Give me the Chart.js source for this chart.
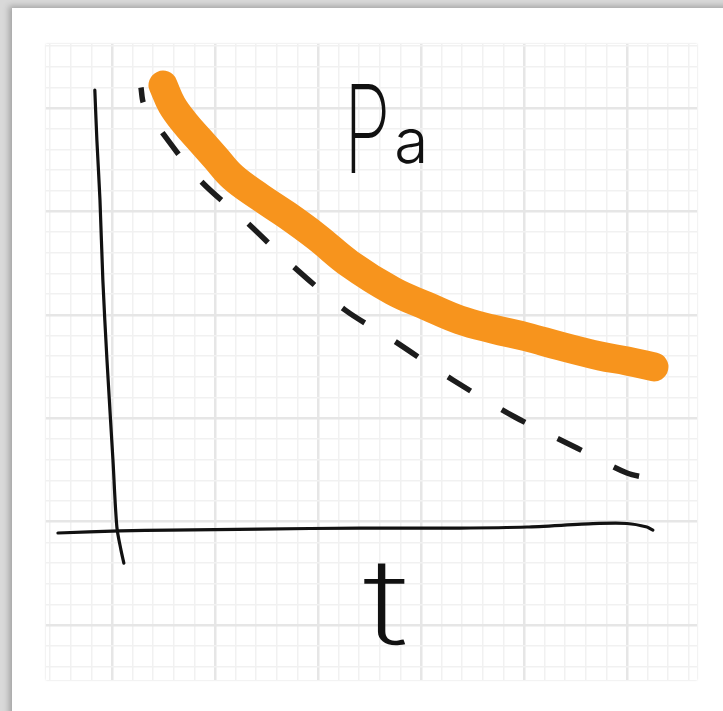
<!DOCTYPE html>
<html lang="en">
<head>
  <meta charset="UTF-8">
  <title>Pa over t</title>
  <script src="https://cdn.jsdelivr.net/npm/chart.js"></script>
  <style>
    body {
      margin: 0;
      width: 723px;
      height: 711px;
      overflow: hidden;
      background: #d9d9d9;
    }
    .card {
      position: absolute;
      left: 12px;
      top: 8px;
      width: 730px;
      height: 720px;
      background: #fff;
      box-shadow: -3px -2px 6px rgba(0, 0, 0, 0.25);
    }
    .paper {
      position: absolute;
      left: 46px;
      top: 44px;
      width: 651px;
      height: 636px;
      box-shadow: 0 0 2px rgba(0, 0, 0, 0.15);
    }
    .paper canvas {
      display: block;
    }
  </style>
</head>
<body>
  <div class="card"></div>
  <div class="paper">
    <canvas id="sketch" width="651" height="636"></canvas>
  </div>

  <script>
    // axis window, in grid squares (5 small squares to a big one)
    const tRange = [-3.2, 28.4];
    const paRange = [-7.66, 23.1];

    // orange curve: Pa(t)
    const curveT  = [2.48, 2.91, 3.54, 4.27, 5.00, 5.87, 7.18, 8.50, 9.95, 11.55, 13.64, 15.29, 16.89, 18.50, 20.15, 21.75, 23.69, 25.00, 26.31];
    const curvePa = [21.11, 20.15, 19.28, 18.45, 17.63, 16.66, 15.70, 14.82, 13.76, 12.46, 11.15, 10.42, 9.75, 9.31, 8.93, 8.49, 8.01, 7.77, 7.48];

    // dashed comparison line
    const dashT  = [1.41, 1.55, 2.43, 4.27, 6.55, 8.74, 11.31, 13.64, 16.55, 19.56, 22.57, 25.00, 26.02];
    const dashPa = [21.00, 20.19, 18.84, 16.52, 14.47, 12.40, 10.24, 8.78, 6.85, 5.06, 3.56, 2.35, 2.11];

    // hand-drawn axes
    const vAxisT  = [-0.83, -0.73, -0.58, -0.44, -0.24, 0.05, 0.24, 0.44, 0.58];
    const vAxisPa = [20.87, 18.45, 15.55, 11.68, 7.81, 2.98, -0.26, -1.38, -2.01];
    const hAxisT  = [-2.62, 0.39, 2.82, 7.18, 12.04, 16.89, 20.15, 23.35, 25.00, 25.97, 26.26];
    const hAxisPa = [-0.55, -0.45, -0.41, -0.36, -0.31, -0.31, -0.26, -0.10, -0.09, -0.26, -0.41];

    const pts = (xs, ys) => xs.map((x, i) => ({ x: x, y: ys[i] }));

    // one grid line per small square, heavier every fifth
    const squareTicks = scale => {
      const ticks = [];
      for (let v = Math.ceil(scale.min); v <= Math.floor(scale.max); v++) ticks.push({ value: v });
      scale.ticks = ticks;
    };
    const paperGrid = {
      drawTicks: false,
      color: c => (c.tick && c.tick.value % 5 === 0) ? '#e6e6e6' : '#f1f1f1',
      lineWidth: c => (c.tick && c.tick.value % 5 === 0) ? 2.5 : 1.5
    };

    const labels = {
      id: 'sketchLabels',
      afterDatasetsDraw(chart) {
        const { ctx, scales: { x, y } } = chart;
        ctx.save();
        ctx.fillStyle = '#111';
        ctx.textBaseline = 'alphabetic';

        ctx.font = '200 122px Inter';
        ctx.save();
        ctx.translate(x.getPixelForValue(11.25), y.getPixelForValue(16.86));
        ctx.scale(0.62, 1);
        ctx.fillText('P', 0, 0);
        ctx.restore();

        ctx.font = '300 62px Inter';
        ctx.fillText('a', x.getPixelForValue(13.7), y.getPixelForValue(17.34));

        ctx.font = '200 120px Inter';
        ctx.textAlign = 'center';
        ctx.save();
        ctx.translate(x.getPixelForValue(13.3), y.getPixelForValue(-5.97));
        ctx.scale(1.4, 1);
        ctx.fillText('t', 0, 0);
        ctx.restore();

        ctx.restore();
      }
    };

    new Chart(document.getElementById('sketch'), {
      type: 'line',
      data: {
        datasets: [
          {
            label: 'Pa',
            data: pts(curveT, curvePa),
            borderColor: '#f7941d',
            borderWidth: 29,
            borderCapStyle: 'round',
            borderJoinStyle: 'round',
            tension: 0.4,
            pointRadius: 0
          },
          {
            label: 'tangent',
            data: pts(dashT, dashPa),
            borderColor: '#1c1c1c',
            borderWidth: 5.5,
            borderDash: [27, 36],
            borderDashOffset: 12,
            tension: 0.3,
            pointRadius: 0
          },
          {
            label: 'Pa axis',
            data: pts(vAxisT, vAxisPa),
            borderColor: '#111',
            borderWidth: 3.2,
            borderCapStyle: 'round',
            tension: 0.3,
            pointRadius: 0
          },
          {
            label: 't axis',
            data: pts(hAxisT, hAxisPa),
            borderColor: '#111',
            borderWidth: 3.2,
            borderCapStyle: 'round',
            tension: 0.2,
            pointRadius: 0
          }
        ]
      },
      options: {
        responsive: false,
        animation: false,
        layout: { padding: 0 },
        plugins: { legend: { display: false }, tooltip: { enabled: false } },
        scales: {
          x: {
            type: 'linear',
            min: tRange[0],
            max: tRange[1],
            afterBuildTicks: squareTicks,
            ticks: { display: false },
            border: { display: false },
            grid: paperGrid
          },
          y: {
            type: 'linear',
            min: paRange[0],
            max: paRange[1],
            afterBuildTicks: squareTicks,
            ticks: { display: false },
            border: { display: false },
            grid: paperGrid
          }
        }
      },
      plugins: [labels]
    });
  </script>
</body>
</html>
